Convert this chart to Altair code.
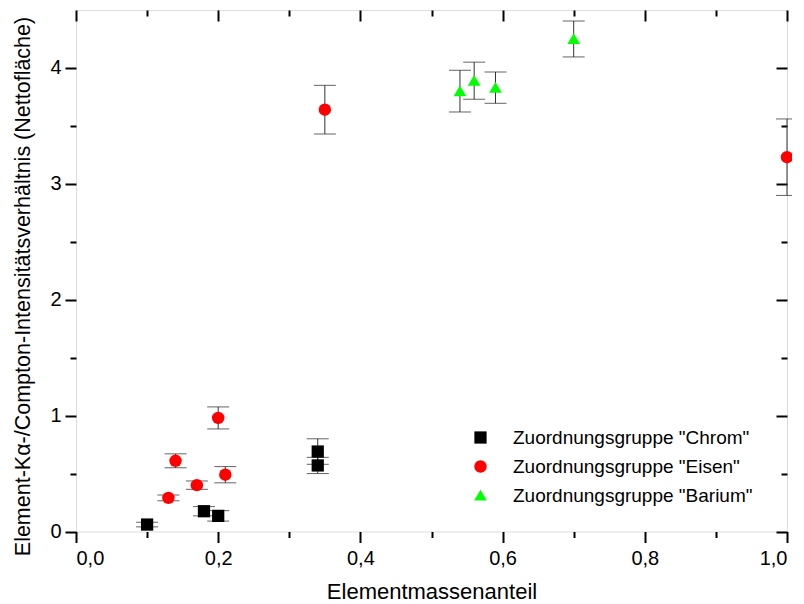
import altair as alt
import pandas as pd

# ---- data ----
chrom_x = [0.10, 0.18, 0.20, 0.34, 0.34]
chrom_y = [0.06, 0.175, 0.135, 0.69, 0.57]
chrom_err = [0.02, 0.04, 0.045, 0.11, 0.07]

eisen_x = [0.13, 0.14, 0.17, 0.20, 0.21, 0.35, 1.00]
eisen_y = [0.29, 0.61, 0.40, 0.98, 0.49, 3.64, 3.23]
eisen_err = [0.025, 0.06, 0.036, 0.095, 0.07, 0.21, 0.33]

barium_x = [0.54, 0.56, 0.59, 0.70]
barium_y = [3.80, 3.89, 3.83, 4.25]
barium_err = [0.18, 0.16, 0.135, 0.155]

groups = ['Zuordnungsgruppe "Chrom"', 'Zuordnungsgruppe "Eisen"', 'Zuordnungsgruppe "Barium"']
colors = ["#000000", "#ff0000", "#00ff00"]
shapes = ["square", "circle", "M-1,0.8L1,0.8L0,-0.9Z"]
sizes = [150, 160, 300]

x_major = [0.0, 0.2, 0.4, 0.6, 0.8, 1.0]
x_minor = [0.1, 0.3, 0.5, 0.7, 0.9]
y_major = [0, 1, 2, 3, 4]
y_minor = [0.5, 1.5, 2.5, 3.5]

x_title = "Elementmassenanteil"
y_title = "Element-Kα-/Compton-Intensitätsverhältnis (Nettofläche)"

rows = []
for g, xs, ys, es in [(groups[0], chrom_x, chrom_y, chrom_err),
                      (groups[1], eisen_x, eisen_y, eisen_err),
                      (groups[2], barium_x, barium_y, barium_err)]:
    for x, y, e in zip(xs, ys, es):
        rows.append({"group": g, "x": x, "y": y, "lo": y - e, "hi": y + e})
df = pd.DataFrame(rows)

FONT = "Liberation Sans"
xs = alt.Scale(domain=[0, 1], nice=False, zero=False)
ys = alt.Scale(domain=[0, 4.5], nice=False, zero=False)
comma = "replace(format(datum.value, '.1f'), '.', ',')"


def ax(orient, values, size, labels=False, title=None, inward=False, fmt=None,
       label_pad=4, title_pad=None, title_font=22, title_y=None):
    kw = dict(orient=orient, values=values, tickSize=size, tickWidth=2,
              tickColor="black", domain=False, grid=False, labels=labels,
              title=title)
    if inward:
        kw["offset"] = -size
    if labels:
        kw.update(labelFont=FONT, labelFontSize=20, labelColor="black",
                  labelPadding=label_pad)
        if fmt:
            kw["labelExpr"] = fmt
    if title:
        kw.update(titleFont=FONT, titleFontSize=title_font, titleFontWeight="normal",
                  titleColor="black")
        if title_pad is not None:
            kw["titlePadding"] = title_pad
        if title_y is not None:
            kw["titleY"] = title_y
    return alt.Axis(**kw)


base = alt.Chart(df)

rules = base.mark_rule(color="#333333", strokeWidth=1).encode(
    x=alt.X("x:Q", scale=xs,
            axis=ax("bottom", x_major, 11, labels=True, title=x_title, fmt=comma,
                    label_pad=6, title_pad=13)),
    y=alt.Y("lo:Q", scale=ys,
            axis=ax("left", y_major, 11, labels=True, title=y_title,
                    title_pad=15, title_font=21.5, title_y=276)),
    y2="hi:Q",
)

caps_lo = base.mark_tick(orient="horizontal", size=22, thickness=1, color="#222222").encode(
    x=alt.X("x:Q", scale=xs, axis=ax("bottom", x_minor, 6)),
    y=alt.Y("lo:Q", scale=ys, axis=ax("left", y_minor, 6)),
)

caps_hi = base.mark_tick(orient="horizontal", size=22, thickness=1, color="#222222").encode(
    x=alt.X("x:Q", scale=xs, axis=ax("top", x_major, 11, inward=True)),
    y=alt.Y("hi:Q", scale=ys, axis=ax("right", y_major, 11, inward=True)),
)

leg = alt.Legend(title=None, orient="none", legendX=395, legendY=418,
                 labelFont=FONT, labelFontSize=19, labelColor="black",
                 labelOffset=23, labelLimit=0, rowPadding=9,
                 symbolStrokeWidth=0, padding=0)

points = base.mark_point(filled=True, opacity=1, strokeWidth=0).encode(
    x=alt.X("x:Q", scale=xs, axis=ax("top", x_minor, 6, inward=True)),
    y=alt.Y("y:Q", scale=ys, axis=ax("right", y_minor, 6, inward=True)),
    color=alt.Color("group:N", scale=alt.Scale(domain=groups, range=colors),
                    legend=leg),
    shape=alt.Shape("group:N", scale=alt.Scale(domain=groups, range=shapes),
                    legend=leg),
    size=alt.Size("group:N", scale=alt.Scale(domain=groups, range=sizes),
                  legend=leg),
)

chart = alt.layer(rules, caps_lo, caps_hi, points).resolve_axis(
    x="independent", y="independent"
).properties(
    width=711, height=521.5,
    padding={"left": 68, "top": 2, "right": 5, "bottom": 74},
    autosize="none",
).configure_view(stroke="black", strokeWidth=2).configure(background="white")

chart.save("out.html", embed_options={"renderer": "svg", "actions": False})
